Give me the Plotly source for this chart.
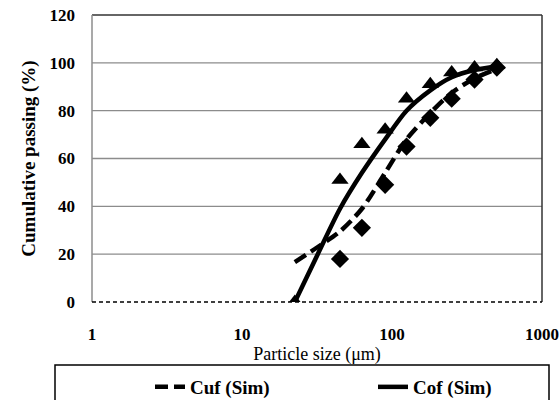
import plotly.graph_objects as go

# Measured data (sieve sizes, um)
cof_size = [22.5, 45, 63, 90, 125, 180, 250, 355, 500]
cof_pass = [0, 51, 66, 72, 85, 91, 96, 98, 99]
cuf_size = [45, 63, 90, 125, 180, 250, 355, 500]
cuf_pass = [18, 31, 49, 65, 77, 85, 93, 98]

# Simulated curves
cof_sim_size = [22.5, 32, 45, 63, 90, 125, 180, 250, 355, 500]
cof_sim_pass = [0, 20, 39, 54, 68, 80, 88.5, 94, 97, 98.5]
cuf_sim_size = [22.5, 32, 45, 63, 90, 125, 180, 250, 355, 500]
cuf_sim_pass = [16.7, 23, 29.5, 39, 54, 68, 79, 87.5, 93.5, 97.5]

y_ticks = [0, 20, 40, 60, 80, 100, 120]
x_ticks = [1, 10, 100, 1000]
x_labels = ["1", "10", "100", "1000"]
grid_y = [20, 40, 60, 80, 100]

SERIF = "Liberation Serif"

fig = go.Figure()

fig.add_trace(go.Scatter(
    x=cof_size, y=cof_pass, mode="markers", showlegend=False,
    marker=dict(symbol="triangle-up", size=15, color="black"),
))
fig.add_trace(go.Scatter(
    x=cuf_size, y=cuf_pass, mode="markers", showlegend=False,
    marker=dict(symbol="diamond", size=14, color="black"),
))
fig.add_trace(go.Scatter(
    x=cuf_sim_size, y=cuf_sim_pass, mode="lines", name="Cuf (Sim)",
    line=dict(color="black", width=4.5, dash="13px,6px", shape="spline", smoothing=0.8),
))
fig.add_trace(go.Scatter(
    x=cof_sim_size, y=cof_sim_pass, mode="lines", name="Cof (Sim)",
    line=dict(color="black", width=4.5, shape="spline", smoothing=0.8),
))

shapes = []
for gy in grid_y:
    shapes.append(dict(type="line", xref="paper", yref="y", x0=0, x1=1, y0=gy, y1=gy,
                       line=dict(color="#8c8c8c", width=1.3), layer="below"))
# borders
shapes.append(dict(type="line", xref="paper", yref="paper", x0=0, x1=1, y0=1, y1=1,
                   line=dict(color="#333333", width=1.5)))
shapes.append(dict(type="line", xref="paper", yref="paper", x0=1, x1=1, y0=0, y1=1,
                   line=dict(color="#333333", width=1.5)))
shapes.append(dict(type="line", xref="paper", yref="paper", x0=0, x1=0, y0=0, y1=1,
                   line=dict(color="#8c8c8c", width=1.5)))
shapes.append(dict(type="line", xref="paper", yref="paper", x0=0, x1=1, y0=0, y1=0,
                   line=dict(color="black", width=1.3, dash="4px,3px")))
# legend box
shapes.append(dict(type="rect", xref="paper", yref="paper",
                   x0=(55 - 92) / 450, x1=(549 - 92) / 450,
                   y0=(302 - 404) / 287, y1=(302 - 365) / 287,
                   line=dict(color="black", width=1.5), fillcolor="rgba(0,0,0,0)"))

fig.update_layout(
    width=559, height=400,
    margin=dict(l=92, r=17, t=15, b=98, autoexpand=False),
    paper_bgcolor="white", plot_bgcolor="white",
    shapes=shapes,
    showlegend=True,
    legend=dict(orientation="h", xref="container", yref="container",
                x=150 / 559, y=(400 - 368) / 400,
                xanchor="left", yanchor="top",
                bgcolor="rgba(0,0,0,0)", borderwidth=0,
                entrywidth=178, entrywidthmode="pixels",
                font=dict(family=SERIF, size=19, color="black", weight="bold")),
    xaxis=dict(type="log", range=[0, 3], tickvals=x_ticks, ticktext=x_labels,
               showgrid=False, zeroline=False, showline=False, ticks="",
               ticklabelstandoff=20, automargin=False,
               tickfont=dict(family=SERIF, size=17, color="black", weight="bold"),
               title=dict(text="Particle size (μm)", standoff=0,
                          font=dict(family=SERIF, size=18, color="black"))),
    yaxis=dict(range=[0, 120], tickvals=y_ticks, showgrid=False, zeroline=False,
               showline=False, ticks="", ticklabelstandoff=16, automargin=False,
               tickfont=dict(family=SERIF, size=17, color="black", weight="bold"),
               title=dict(text="Cumulative passing (%)", standoff=8,
                          font=dict(family=SERIF, size=19, color="black", weight="bold"))),
)

fig.write_html("out.html")
